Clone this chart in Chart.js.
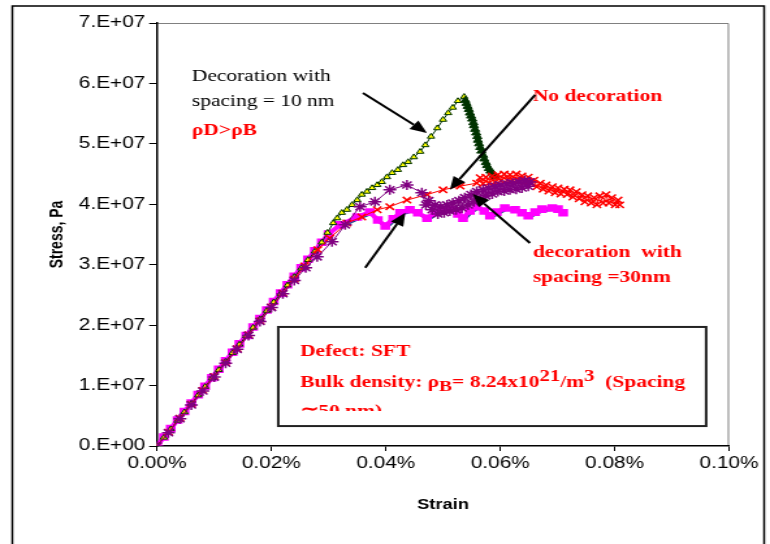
<!DOCTYPE html>
<html>
<head>
<meta charset="utf-8">
<script src="https://cdn.jsdelivr.net/npm/chart.js@4.4.0/dist/chart.umd.min.js"></script>
<style>
  html, body { margin: 0; padding: 0; background: #fff; overflow: hidden; }
  #wrap { width: 770px; height: 544px; overflow: hidden; }
  /* the original picture is stretched sideways: draw narrow, then widen */
  #chart { transform: scaleX(1.30068); transform-origin: 0 0; }
</style>
</head>
<body>
<div id="wrap"><canvas id="chart" width="592" height="544"></canvas></div>
<script>
// strain in %, stress in units of 1e7 Pa

// decoration with spacing = 10 nm (green / yellow triangles)
const dec10Strain = [0, 0.0012, 0.0024, 0.0036, 0.0048, 0.0060, 0.0072, 0.0084, 0.0096, 0.0108, 0.0120, 0.0132, 0.0144,
  0.0156, 0.0168, 0.0180, 0.0192, 0.0204, 0.0216, 0.0228, 0.0240, 0.0252, 0.0264, 0.0276, 0.0288, 0.0298,
  0.0308, 0.0315, 0.0323, 0.0332, 0.0341, 0.0350, 0.0358, 0.0367, 0.0376, 0.0385, 0.0393, 0.0402, 0.0411,
  0.0421, 0.0430, 0.0439, 0.0449, 0.0460, 0.0469, 0.0479, 0.0490, 0.0500, 0.0509, 0.0517, 0.0526, 0.0537,
  0.0539, 0.0541, 0.0543, 0.0545, 0.0547, 0.0549, 0.0551, 0.0553, 0.0554, 0.0556, 0.0558, 0.0560, 0.0561,
  0.0563, 0.0565, 0.0567, 0.0570, 0.0572, 0.0575, 0.0577, 0.0580, 0.0583, 0.0586, 0.0589, 0.0591];
const dec10Stress = [0, 0.14, 0.28, 0.42, 0.56, 0.70, 0.84, 0.98, 1.12, 1.26, 1.40, 1.54, 1.68,
  1.82, 1.96, 2.10, 2.24, 2.38, 2.52, 2.66, 2.80, 2.94, 3.08, 3.22, 3.37, 3.53,
  3.69, 3.77, 3.86, 3.91, 3.99, 4.07, 4.16, 4.21, 4.27, 4.32, 4.37, 4.45, 4.52,
  4.57, 4.65, 4.70, 4.78, 4.87, 4.98, 5.12, 5.26, 5.40, 5.51, 5.60, 5.71, 5.78,
  5.72, 5.67, 5.62, 5.57, 5.51, 5.46, 5.41, 5.35, 5.30, 5.24, 5.18, 5.12, 5.06,
  5.00, 4.94, 4.88, 4.81, 4.75, 4.69, 4.64, 4.59, 4.55, 4.52, 4.48, 4.45];

// no decoration (red crosses)
const noDecStrain = [0, 0.002, 0.004, 0.006, 0.008, 0.010, 0.012, 0.014, 0.016, 0.018, 0.020, 0.022, 0.024,
  0.0258, 0.0281, 0.0302, 0.0332, 0.0358, 0.0385, 0.0407, 0.0437, 0.0472, 0.0500, 0.0530, 0.0559,
  0.0565, 0.0570, 0.0575, 0.0580, 0.0586, 0.0591, 0.0596, 0.0601, 0.0607, 0.0612, 0.0617, 0.0622,
  0.0628, 0.0633, 0.0638, 0.0643, 0.0649, 0.0654, 0.0659, 0.0664, 0.0670, 0.0675, 0.0680, 0.0685,
  0.0691, 0.0696, 0.0701, 0.0706, 0.0712, 0.0717, 0.0722, 0.0727, 0.0733, 0.0738, 0.0743, 0.0748,
  0.0753, 0.0759, 0.0764, 0.0769, 0.0774, 0.0780, 0.0785, 0.0790, 0.0795, 0.0801, 0.0806, 0.0809];
const noDecStress = [0, 0.23, 0.46, 0.69, 0.92, 1.15, 1.38, 1.61, 1.84, 2.07, 2.30, 2.53, 2.76,
  2.98, 3.25, 3.44, 3.69, 3.79, 3.91, 3.96, 4.07, 4.16, 4.24, 4.30, 4.35,
  4.44, 4.34, 4.45, 4.35, 4.47, 4.37, 4.49, 4.39, 4.50, 4.40, 4.49, 4.39,
  4.50, 4.40, 4.47, 4.37, 4.45, 4.34, 4.40, 4.29, 4.35, 4.25, 4.32, 4.22,
  4.29, 4.19, 4.27, 4.17, 4.25, 4.16, 4.24, 4.12, 4.21, 4.09, 4.16, 4.04,
  4.14, 4.02, 4.11, 3.99, 4.14, 4.02, 4.16, 4.02, 4.11, 3.99, 4.07, 3.99];

// decoration with spacing = 30 nm (purple asterisks)
const dec30Strain = [0, 0.002, 0.004, 0.006, 0.008, 0.010, 0.012, 0.014, 0.016, 0.018, 0.020, 0.022, 0.024,
  0.026, 0.0280, 0.0306, 0.0329, 0.0355, 0.0381, 0.0407, 0.0437, 0.0463,
  0.0470, 0.0475, 0.0481, 0.0486, 0.0491, 0.0496, 0.0502, 0.0507, 0.0512, 0.0517, 0.0523, 0.0528,
  0.0533, 0.0538, 0.0544, 0.0549, 0.0554, 0.0559, 0.0565, 0.0570, 0.0575, 0.0580, 0.0586, 0.0591,
  0.0596, 0.0601, 0.0607, 0.0612, 0.0617, 0.0622, 0.0628, 0.0633, 0.0638, 0.0643, 0.0649, 0.0652];
const dec30Stress = [0, 0.22, 0.45, 0.68, 0.91, 1.14, 1.37, 1.60, 1.83, 2.06, 2.29, 2.52, 2.74,
  2.95, 3.13, 3.38, 3.66, 3.96, 4.04, 4.24, 4.32, 4.19,
  3.99, 4.06, 3.91, 3.99, 3.84, 3.96, 3.86, 3.99, 3.89, 4.02, 3.91, 4.06,
  3.94, 4.11, 3.99, 4.16, 4.04, 4.21, 4.09, 4.24, 4.14, 4.27, 4.17, 4.30,
  4.21, 4.32, 4.22, 4.34, 4.24, 4.35, 4.25, 4.37, 4.27, 4.39, 4.30, 4.37];

// magenta squares series
const magStrain = [0, 0.0012, 0.0024, 0.0036, 0.0048, 0.0060, 0.0072, 0.0084, 0.0096, 0.0108, 0.0120, 0.0132, 0.0144,
  0.0156, 0.0168, 0.0180, 0.0192, 0.0204, 0.0216, 0.0228, 0.0240, 0.0252, 0.0264, 0.0276, 0.0288, 0.0300,
  0.0320, 0.0350, 0.0372, 0.0386, 0.0399, 0.0413, 0.0425, 0.0442, 0.0456, 0.0472, 0.0486, 0.0498,
  0.0516, 0.0526, 0.0535, 0.0547, 0.0559, 0.0572, 0.0582, 0.0594, 0.0608, 0.0626, 0.0638, 0.0649,
  0.0661, 0.0673, 0.0691, 0.0701, 0.0710];
const magStress = [0, 0.15, 0.29, 0.43, 0.57, 0.71, 0.85, 0.99, 1.13, 1.27, 1.41, 1.55, 1.69,
  1.83, 1.97, 2.11, 2.25, 2.39, 2.53, 2.67, 2.81, 2.95, 3.09, 3.23, 3.37, 3.51,
  3.66, 3.79, 3.87, 3.74, 3.64, 3.76, 3.86, 3.91, 3.86, 3.77, 3.86, 3.91,
  3.91, 3.84, 3.77, 3.89, 3.96, 3.89, 3.81, 3.87, 3.94, 3.91, 3.86, 3.81,
  3.87, 3.92, 3.94, 3.92, 3.86];

// dark blue series showing just under the magenta one
const blueStrain = [0.0323, 0.0353, 0.0375, 0.0389, 0.0402, 0.0416, 0.0428, 0.0445, 0.0459, 0.0475, 0.0489, 0.0501,
  0.0519, 0.0529, 0.0538, 0.0550, 0.0562, 0.0575, 0.0585, 0.0597, 0.0611, 0.0629, 0.0641, 0.0652,
  0.0664, 0.0676, 0.0694, 0.0704, 0.0713];
const blueStress = [3.63, 3.76, 3.84, 3.71, 3.61, 3.73, 3.83, 3.88, 3.83, 3.74, 3.83, 3.88,
  3.88, 3.81, 3.74, 3.86, 3.93, 3.86, 3.78, 3.84, 3.91, 3.88, 3.83, 3.78,
  3.84, 3.89, 3.91, 3.89, 3.83];

const xTickLabels = ['0.00%', '0.02%', '0.04%', '0.06%', '0.08%', '0.10%'];
const yTickLabels = ['0.E+00', '1.E+07', '2.E+07', '3.E+07', '4.E+07', '5.E+07', '6.E+07', '7.E+07'];

const pts = (xs, ys) => xs.map((x, i) => ({ x: x, y: ys[i] * 1e7 }));
const peak10 = dec10Stress.indexOf(Math.max(...dec10Stress));

// annotation positions (strain %, stress 1e7 Pa)
const notes = [
  ['Decoration with', 0.0061, 6.11, '#000000', ''],
  ['spacing = 10 nm', 0.0061, 5.70, '#000000', ''],
  ['ρD>ρB', 0.0061, 5.22, '#ff0000', 'bold '],
  ['No decoration', 0.0657, 5.78, '#ff0000', 'bold '],
  ['decoration  with', 0.0657, 3.20, '#ff0000', 'bold '],
  ['spacing =30nm', 0.0657, 2.78, '#ff0000', 'bold ']
];
const arrows = [
  [0.0360, 5.84, 0.0472, 5.18],
  [0.0661, 5.81, 0.0512, 4.24],
  [0.0652, 3.36, 0.0552, 4.17],
  [0.0364, 2.95, 0.0434, 3.86]
];

function drawArrow(ctx, x1, y1, x2, y2) {
  const a = Math.atan2(y2 - y1, x2 - x1);
  const L = 13, W = 5.5;
  const bx = x2 - L * Math.cos(a), by = y2 - L * Math.sin(a);
  ctx.beginPath();
  ctx.moveTo(x1, y1);
  ctx.lineTo(bx, by);
  ctx.stroke();
  ctx.beginPath();
  ctx.moveTo(x2, y2);
  ctx.lineTo(bx + W * Math.sin(a), by - W * Math.cos(a));
  ctx.lineTo(bx - W * Math.sin(a), by + W * Math.cos(a));
  ctx.closePath();
  ctx.fill();
}

const decor = {
  id: 'decor',
  beforeDraw(chart) {
    const { ctx, chartArea: a } = chart;
    ctx.save();
    ctx.fillStyle = '#fff';
    ctx.fillRect(0, 0, chart.width, chart.height);
    ctx.strokeStyle = '#000';
    ctx.lineWidth = 1.5;
    ctx.strokeRect(9.5, 6, 578, 600);
    ctx.strokeStyle = '#808080';
    ctx.lineWidth = 1;
    ctx.beginPath();
    ctx.moveTo(a.left, a.top + 0.5);
    ctx.lineTo(a.right - 0.5, a.top + 0.5);
    ctx.lineTo(a.right - 0.5, a.bottom);
    ctx.stroke();
    ctx.restore();
  },
  afterDraw(chart) {
    const { ctx } = chart;
    const X = v => chart.scales.x.getPixelForValue(v);
    const Y = v => chart.scales.y.getPixelForValue(v * 1e7);
    ctx.save();
    ctx.textBaseline = 'middle';
    ctx.textAlign = 'left';
    notes.forEach(([t, x, y, c, w]) => {
      ctx.fillStyle = c;
      ctx.font = w + '16.5px "Liberation Serif"';
      ctx.fillText(t, X(x), Y(y));
    });
    ctx.strokeStyle = '#000';
    ctx.fillStyle = '#000';
    ctx.lineWidth = 2;
    arrows.forEach(([x1, y1, x2, y2]) => drawArrow(ctx, X(x1), Y(y1), X(x2), Y(y2)));

    // info box
    const bl = X(0.0212), br = X(0.0960), bt = Y(1.97), bb = Y(0.33);
    ctx.fillStyle = '#fff';
    ctx.fillRect(bl, bt, br - bl, bb - bt);
    ctx.strokeStyle = '#222';
    ctx.lineWidth = 2;
    ctx.strokeRect(bl, bt, br - bl, bb - bt);
    ctx.beginPath();
    ctx.rect(bl, bt, br - bl, Y(0.58) - bt);
    ctx.clip();
    ctx.fillStyle = '#ff0000';
    const tx = X(0.0250);
    ctx.font = 'bold 16.5px "Liberation Serif"';
    ctx.fillText('Defect: SFT', tx, Y(1.56));
    let cx = tx;
    const ly = Y(1.04);
    [['Bulk density: ', 0, 16.5], ['ρ', 0, 16.5], ['B', 4, 15], ['= 8.24x10', 0, 16.5], ['21', -6, 16],
     ['/m', 0, 16.5], ['3', -6, 16], ['  (Spacing', 0, 16.5]].forEach(([t, dy, s]) => {
      ctx.font = 'bold ' + s + 'px "Liberation Serif"';
      ctx.fillText(t, cx, ly + dy);
      cx += ctx.measureText(t).width;
    });
    ctx.font = 'bold 16.5px "Liberation Serif"';
    ctx.fillText('≃50 nm)', tx, Y(0.57));
    ctx.restore();
  }
};

new Chart(document.getElementById('chart'), {
  type: 'scatter',
  data: {
    datasets: [
      {
        label: 'Decoration with spacing = 30 nm',
        data: pts(dec30Strain, dec30Stress),
        showLine: true, order: 0,
        borderColor: '#800080', borderWidth: 1,
        pointStyle: 'star', pointRadius: 5, pointBorderColor: '#800080', pointBorderWidth: 1.5
      },
      {
        label: 'No decoration',
        data: pts(noDecStrain, noDecStress),
        showLine: true, order: 1,
        borderColor: '#ff0000', borderWidth: 1,
        pointStyle: 'crossRot', pointRadius: 4.5, pointBorderColor: '#ff0000', pointBorderWidth: 1.5
      },
      {
        label: 'Decoration with spacing = 10 nm',
        data: pts(dec10Strain, dec10Stress),
        showLine: true, order: 2,
        borderColor: '#003300', borderWidth: 1,
        pointStyle: 'triangle', pointRadius: c => c.dataIndex > peak10 ? 4 : 3.2,
        pointBorderColor: '#003300', pointBorderWidth: 1,
        pointBackgroundColor: c => c.dataIndex > peak10 ? '#003300' : '#ffff00'
      },
      {
        label: 'Series 4',
        data: pts(magStrain, magStress),
        showLine: true, order: 3,
        borderColor: '#ff00ff', borderWidth: 4,
        pointStyle: 'rect', pointRadius: 2.5, pointBackgroundColor: '#ff00ff', pointBorderColor: '#ff00ff'
      },
      {
        label: 'Series 5',
        data: pts(blueStrain, blueStress),
        showLine: true, order: 4,
        borderColor: '#1f4e8c', borderWidth: 2, pointRadius: 0
      }
    ]
  },
  options: {
    responsive: false,
    animation: false,
    devicePixelRatio: 1,
    layout: { padding: { left: 0, top: 23, right: 31.5, bottom: 0 } },
    plugins: { legend: { display: false }, tooltip: { enabled: false } },
    scales: {
      x: {
        type: 'linear', min: 0, max: 0.1,
        afterFit: s => { s.height = 98; },
        ticks: { stepSize: 0.02, padding: 3, color: '#000',
          font: { family: '"Liberation Sans", Arial', size: 16 },
          callback: (v, i) => xTickLabels[i] },
        grid: { drawOnChartArea: false, drawTicks: true, tickLength: 5, color: '#000' },
        border: { display: true, color: '#000', width: 1.5 },
        title: { display: true, text: 'Strain', color: '#000', padding: { top: 0, bottom: 30.6 },
          font: { family: '"Liberation Sans", Arial', size: 14, weight: 'bold' } }
      },
      y: {
        type: 'linear', min: 0, max: 7e7,
        afterFit: s => { s.width = 120.7; },
        ticks: { stepSize: 1e7, padding: 3, color: '#000',
          font: { family: '"Liberation Sans", Arial', size: 16 },
          callback: (v, i) => yTickLabels[i] },
        grid: { drawOnChartArea: false, drawTicks: true, tickLength: 6, color: '#000' },
        border: { display: true, color: '#000', width: 1.5 },
        title: { display: true, text: 'Stress, Pa', color: '#000', padding: { top: 35.4, bottom: 0 },
          font: { family: '"Liberation Sans", Arial', size: 14, weight: 'bold' } }
      }
    }
  },
  plugins: [decor]
});
</script>
</body>
</html>
